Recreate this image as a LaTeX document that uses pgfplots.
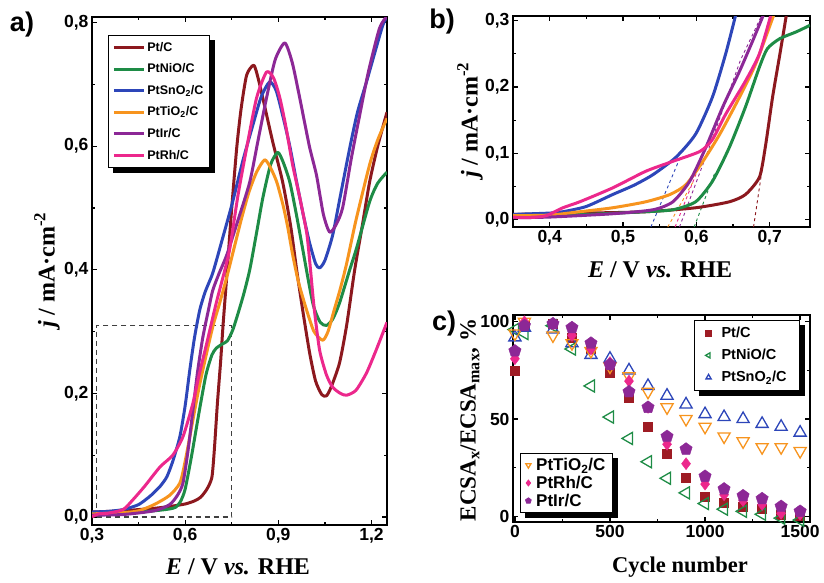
\documentclass[border=0pt]{standalone}
\usepackage{fontspec}
\setmainfont{Liberation Serif}
\setsansfont{Liberation Sans}
\usepackage{pgfplots}
\pgfplotsset{compat=1.18}
\usetikzlibrary{backgrounds}
\definecolor{cPt}{RGB}{140,24,30}
\definecolor{cNi}{RGB}{30,140,70}
\definecolor{cSn}{RGB}{45,70,185}
\definecolor{cTi}{RGB}{247,148,30}
\definecolor{cIr}{RGB}{140,40,150}
\definecolor{cRh}{RGB}{236,40,140}
\definecolor{mPt}{RGB}{158,28,36}
\newcommand\tlfont{\sffamily\bfseries\fontsize{17.5}{17.5}\selectfont}
\newcommand\labfont{\bfseries\fontsize{24}{24}\selectfont}
\newcommand\panfont{\sffamily\bfseries\fontsize{27}{27}\selectfont}
\pgfplotsset{
  myaxis/.style={scale only axis, axis line style={line width=2.4pt},
    tick align=inside, major tick length=5pt, minor tick length=3pt,
    every tick/.append style={line width=1.3pt, black},
    tick label style={font=\tlfont},
    /pgf/number format/assume math mode=true},
  commafmt/.style={/pgf/number format/fixed, /pgf/number format/fixed zerofill,
    /pgf/number format/precision=1, /pgf/number format/use comma},
  curve/.style={line width=3pt, smooth, tension=0.4, line join=round},
  legbox/.style={draw=black, line width=0.8pt, fill=white},
}
\newcommand\legshadow[1]{\begin{scope}[on background layer]
  \fill[black] ([xshift=5pt,yshift=-5pt]#1.south west) rectangle ([xshift=5pt,yshift=-5pt]#1.north east);
  \end{scope}}
\begin{document}
\begin{tikzpicture}
\useasboundingbox (0pt,0pt) rectangle (824pt,-582pt);
% ---------------- panel a ----------------
\begin{axis}[myaxis, at={(92pt,-17pt)}, anchor=north west, width=295pt, height=508pt,
  xmin=0.3, xmax=1.25, ymin=-0.013, ymax=0.809,
  xtick={0.3,0.6,0.9,1.2}, ytick={0,0.2,0.4,0.6,0.8},
  minor x tick num=1, minor y tick num=1,
  xticklabel style={commafmt}, yticklabel style={commafmt},
  legend style={name=legA, at={(0.054,0.965)}, anchor=north west, legbox,
    font=\sffamily\bfseries\fontsize{12.5}{14}\selectfont, inner xsep=4pt, inner ysep=5pt,
    row sep=7pt, cells={anchor=west}},
  legend image code/.code={\draw[#1] (0pt,0pt) -- (30pt,0pt);},
]
\addplot[forget plot, black!75, line width=1.3pt, dash pattern=on 5pt off 4pt] coordinates {(0.315,0) (0.75,0) (0.75,0.31) (0.315,0.31) (0.315,0)};
\addplot[curve, cPt] coordinates {(0.30,0.008) (0.35,0.009) (0.40,0.010) (0.45,0.012) (0.50,0.014) (0.55,0.017) (0.60,0.021) (0.63,0.026) (0.65,0.032) (0.67,0.045) (0.686,0.064) (0.694,0.109) (0.704,0.185) (0.714,0.25) (0.722,0.31) (0.734,0.39) (0.75,0.50) (0.766,0.597) (0.78,0.66) (0.798,0.715) (0.821,0.731) (0.835,0.71) (0.85,0.678) (0.882,0.607) (0.914,0.542) (0.94,0.47) (0.959,0.40) (0.98,0.33) (1.001,0.265) (1.02,0.22) (1.04,0.198) (1.055,0.196) (1.07,0.21) (1.097,0.249) (1.12,0.31) (1.146,0.40) (1.17,0.47) (1.194,0.542) (1.22,0.60) (1.25,0.655)};
\addlegendentry{Pt/C}
\addplot[curve, cNi] coordinates {(0.30,0.005) (0.40,0.006) (0.50,0.01) (0.55,0.013) (0.57,0.016) (0.585,0.025) (0.60,0.045) (0.62,0.097) (0.645,0.17) (0.667,0.23) (0.686,0.262) (0.70,0.273) (0.72,0.28) (0.736,0.285) (0.755,0.305) (0.786,0.356) (0.808,0.40) (0.83,0.46) (0.85,0.516) (0.875,0.57) (0.898,0.59) (0.915,0.575) (0.937,0.542) (0.958,0.49) (0.978,0.435) (1.011,0.346) (1.035,0.315) (1.055,0.31) (1.075,0.32) (1.097,0.346) (1.13,0.40) (1.152,0.435) (1.194,0.51) (1.22,0.54) (1.25,0.558)};
\addlegendentry{PtNiO/C}
\addplot[curve, cSn] coordinates {(0.30,0.008) (0.35,0.009) (0.40,0.012) (0.45,0.02) (0.49,0.035) (0.52,0.05) (0.541,0.065) (0.56,0.09) (0.583,0.13) (0.60,0.18) (0.615,0.238) (0.63,0.29) (0.647,0.335) (0.665,0.365) (0.689,0.395) (0.72,0.45) (0.753,0.51) (0.785,0.575) (0.818,0.634) (0.845,0.68) (0.872,0.704) (0.893,0.69) (0.914,0.65) (0.937,0.60) (0.959,0.542) (0.98,0.49) (1.0,0.445) (1.02,0.41) (1.033,0.403) (1.05,0.415) (1.075,0.456) (1.10,0.52) (1.13,0.597) (1.155,0.655) (1.184,0.704) (1.21,0.75) (1.236,0.795) (1.25,0.81)};
\addlegendentry{PtSnO\textsubscript{2}/C}
\addplot[curve, cTi] coordinates {(0.30,0.005) (0.40,0.007) (0.45,0.01) (0.50,0.02) (0.55,0.035) (0.583,0.055) (0.60,0.09) (0.625,0.157) (0.645,0.21) (0.669,0.265) (0.69,0.31) (0.711,0.346) (0.734,0.388) (0.76,0.44) (0.78,0.48) (0.805,0.525) (0.83,0.558) (0.856,0.578) (0.875,0.565) (0.895,0.542) (0.915,0.505) (0.93,0.47) (0.946,0.425) (0.965,0.38) (0.991,0.335) (1.015,0.30) (1.043,0.286) (1.06,0.30) (1.08,0.335) (1.10,0.37) (1.12,0.41) (1.15,0.48) (1.194,0.57) (1.22,0.61) (1.25,0.645)};
\addlegendentry{PtTiO\textsubscript{2}/C}
\addplot[curve, cIr] coordinates {(0.30,0.003) (0.40,0.004) (0.50,0.01) (0.55,0.02) (0.575,0.035) (0.593,0.055) (0.61,0.11) (0.625,0.173) (0.64,0.235) (0.657,0.291) (0.675,0.335) (0.689,0.367) (0.71,0.395) (0.734,0.424) (0.77,0.48) (0.808,0.542) (0.835,0.61) (0.862,0.678) (0.89,0.74) (0.921,0.767) (0.945,0.735) (0.969,0.678) (1.0,0.60) (1.023,0.553) (1.045,0.49) (1.065,0.461) (1.085,0.472) (1.107,0.50) (1.135,0.58) (1.162,0.65) (1.19,0.72) (1.226,0.791) (1.25,0.81)};
\addlegendentry{PtIr/C}
\addplot[curve, cRh] coordinates {(0.30,0.0) (0.32,0.005) (0.35,0.006) (0.40,0.012) (0.432,0.028) (0.47,0.05) (0.519,0.081) (0.56,0.10) (0.593,0.13) (0.625,0.184) (0.645,0.23) (0.669,0.28) (0.70,0.346) (0.728,0.40) (0.744,0.435) (0.77,0.52) (0.798,0.597) (0.83,0.678) (0.862,0.72) (0.885,0.71) (0.905,0.678) (0.925,0.63) (0.946,0.57) (0.97,0.515) (0.991,0.461) (1.0,0.42) (1.015,0.34) (1.033,0.27) (1.055,0.23) (1.075,0.21) (1.1,0.2) (1.12,0.197) (1.15,0.205) (1.184,0.233) (1.215,0.27) (1.25,0.315)};
\addlegendentry{PtRh/C}
\end{axis}
\legshadow{legA}
% ---------------- panel b ----------------
\begin{axis}[myaxis, at={(513pt,-16pt)}, anchor=north west, width=297pt, height=211pt,
  xmin=0.35, xmax=0.755, ymin=-0.011, ymax=0.307,
  xtick={0.4,0.5,0.6,0.7}, ytick={0,0.1,0.2,0.3},
  minor x tick num=1, minor y tick num=1,
  xticklabel style={commafmt}, yticklabel style={commafmt},
]
\addplot[forget plot, cSn, line width=0.9pt, dashed] coordinates {(0.538,-0.011) (0.578,0.094)};
\addplot[forget plot, cTi, line width=0.9pt, dashed] coordinates {(0.561,-0.011) (0.597,0.06)};
\addplot[forget plot, cRh, line width=0.9pt, dashed] coordinates {(0.571,-0.011) (0.60,0.07)};
\addplot[forget plot, cIr, line width=0.9pt, dashed] coordinates {(0.577,-0.011) (0.618,0.11) (0.66,0.24) (0.69,0.31)};
\addplot[forget plot, cNi, line width=0.9pt, dashed] coordinates {(0.597,-0.011) (0.625,0.07)};
\addplot[forget plot, cPt, line width=0.9pt, dashed] coordinates {(0.678,-0.011) (0.69,0.078)};
\addplot[curve, cPt] coordinates {(0.35,0.008) (0.45,0.01) (0.531,0.012) (0.599,0.018) (0.645,0.027) (0.667,0.038) (0.686,0.064) (0.694,0.109) (0.704,0.185) (0.714,0.25) (0.723,0.31)};
\addplot[curve, cNi] coordinates {(0.35,0.006) (0.45,0.008) (0.53,0.012) (0.568,0.015) (0.599,0.027) (0.622,0.058) (0.645,0.109) (0.667,0.17) (0.686,0.23) (0.697,0.258) (0.714,0.273) (0.736,0.283) (0.755,0.293)};
\addplot[curve, cSn] coordinates {(0.35,0.008) (0.40,0.01) (0.418,0.012) (0.45,0.02) (0.486,0.038) (0.515,0.052) (0.541,0.068) (0.572,0.094) (0.599,0.129) (0.622,0.185) (0.64,0.25) (0.654,0.31)};
\addplot[curve, cTi] coordinates {(0.35,0.006) (0.40,0.007) (0.441,0.012) (0.486,0.018) (0.531,0.027) (0.564,0.038) (0.586,0.053) (0.609,0.088) (0.632,0.129) (0.659,0.185) (0.681,0.235) (0.706,0.31)};
\addplot[curve, cIr] coordinates {(0.35,0.003) (0.40,0.004) (0.486,0.009) (0.541,0.015) (0.568,0.027) (0.591,0.058) (0.613,0.109) (0.636,0.17) (0.659,0.224) (0.677,0.27) (0.692,0.31)};
\addplot[curve, cRh] coordinates {(0.35,0.004) (0.37,0.003) (0.395,0.006) (0.418,0.018) (0.441,0.027) (0.486,0.048) (0.531,0.073) (0.568,0.088) (0.605,0.103) (0.622,0.121) (0.64,0.159) (0.667,0.209) (0.686,0.25) (0.702,0.31)};
\end{axis}
% ---------------- panel c ----------------
\begin{axis}[myaxis, at={(513pt,-315pt)}, anchor=north west, width=297pt, height=207pt,
  xmin=-10, xmax=1552, ymin=-3, ymax=103.5,
  xtick={0,500,1000,1500}, ytick={0,50,100},
  minor x tick num=1, minor y tick num=1,
  /pgf/number format/1000 sep={},
  legend style={name=legC, at={(0.966,0.976)}, anchor=north east, legbox,
    font=\sffamily\bfseries\fontsize{14.5}{16}\selectfont, inner xsep=11pt, inner ysep=5pt,
    row sep=6pt, column sep=8pt, cells={anchor=west}},
  legend image post style={mark size=3pt},
]
\addplot[only marks, mark=square*, mark size=4.5pt, color=mPt] coordinates {(0,75) (50,98) (200,99) (300,92) (400,86) (500,74) (600,61) (700,46) (800,32) (900,20) (1000,10) (1100,7) (1200,5) (1300,4) (1400,1) (1500,0)};
\addlegendentry{Pt/C}
\addplot[only marks, mark=triangle, mark size=7pt, color=cNi, line width=1.3pt, mark options={rotate=90}] coordinates {(0,96) (50,94) (200,98) (300,86) (400,67) (500,51) (600,40) (700,28) (800,19.5) (900,12) (1000,6.5) (1100,3.6) (1200,2.5) (1300,1) (1400,-1) (1500,-2)};
\addlegendentry{PtNiO/C}
\addplot[only marks, mark=triangle, mark size=7pt, color=cSn, line width=1.3pt] coordinates {(0,92) (50,97) (200,96) (300,89) (400,83) (500,81) (600,75) (700,67) (800,62) (900,57.5) (1000,52.5) (1100,51) (1200,50) (1300,47.5) (1400,46) (1500,43)};
\addlegendentry{PtSnO\textsubscript{2}/C}
\end{axis}
\legshadow{legC}
\begin{axis}[scale only axis, hide axis, at={(513pt,-315pt)}, anchor=north west, width=297pt, height=207pt,
  xmin=-10, xmax=1552, ymin=-3, ymax=103.5,
  legend style={name=legD, at={(0.024,0.043)}, anchor=south west, legbox,
    font=\sffamily\bfseries\fontsize{17}{18}\selectfont, inner xsep=5pt, inner ysep=3pt,
    row sep=0pt, column sep=3pt, cells={anchor=west}},
  legend image post style={mark size=3pt},
]
\addplot[only marks, mark=triangle, mark size=7pt, color=cTi, line width=1.3pt, mark options={rotate=180}] coordinates {(0,94) (50,100) (200,93) (300,89) (400,85) (500,77) (600,72) (700,64) (800,56) (900,50) (1000,46) (1100,41) (1200,38.5) (1300,35.5) (1400,35.5) (1500,33.5)};
\addlegendentry{PtTiO\textsubscript{2}/C}
\addplot[only marks, mark=diamond*, mark size=6pt, color=cRh] coordinates {(0,81) (50,100) (200,99) (300,93) (400,86) (500,79) (600,69.5) (700,56) (800,37) (900,27) (1000,16.5) (1100,11) (1200,8) (1300,6) (1400,1.5) (1500,1)};
\addlegendentry{PtRh/C}
\addplot[only marks, mark=pentagon*, mark size=6.5pt, color=cIr] coordinates {(0,85) (50,98) (200,99) (300,97) (400,89) (500,78) (600,64) (700,56) (800,41) (900,34.5) (1000,20.5) (1100,14) (1200,10.5) (1300,9) (1400,5) (1500,2.5)};
\addlegendentry{PtIr/C}
\end{axis}
\legshadow{legD}
% ---------------- labels ----------------
\node[font=\panfont] at (22pt,-25pt) {a)};
\node[font=\panfont] at (442pt,-22pt) {b)};
\node[font=\panfont] at (444pt,-324pt) {c)};
\node[font=\labfont] at (238pt,-567pt) {{\itshape E} / V {\itshape vs.} RHE};
\node[font=\labfont] at (660pt,-270pt) {{\itshape E} / V {\itshape vs.} RHE};
\node[font=\bfseries\fontsize{22.5}{22.5}\selectfont] at (680pt,-567pt) {Cycle number};
\node[font=\labfont, rotate=90] at (47pt,-270pt) {{\itshape j} / mA·cm\textsuperscript{-2}};
\node[font=\labfont, rotate=90] at (470pt,-120pt) {{\itshape j} / mA·cm\textsuperscript{-2}};
\node[font=\bfseries\fontsize{23}{23}\selectfont, rotate=90] at (470pt,-420pt) {ECSA\textsubscript{x}/ECSA\textsubscript{max}, \%};
\end{tikzpicture}
\end{document}
